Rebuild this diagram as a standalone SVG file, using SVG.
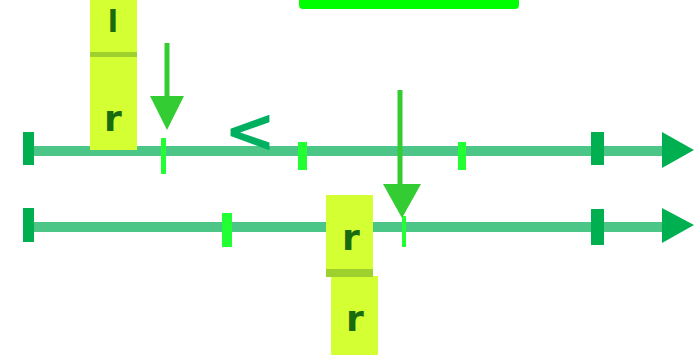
<svg xmlns="http://www.w3.org/2000/svg" width="694" height="355" viewBox="0 0 694 355">
  <style>
    .axis { stroke: #4cc686; stroke-width: 10; fill: none; }
    .bar { fill: #00b050; }
    .head { fill: #00b050; }
    .tick { fill: #22ff33; }
    .box { fill: #d4ff33; }
    .div { fill: #9fd12e; }
    .lbl { font-family: "DejaVu Sans", "Liberation Sans", sans-serif; font-weight: bold; fill: #1a6a10; }
    .down { stroke: #33cc33; stroke-width: 5; fill: none; }
    .downhead { fill: #33cc33; }
  </style>
  <g id="topbar">
    <rect x="299" y="-6" width="220" height="15" rx="4" fill="#00ff00"/>
  </g>
  <g id="line-top">
    <line class="axis" x1="34" y1="151" x2="665" y2="151"/>
    <rect class="bar" x="23" y="132" width="11" height="33"/>
    <rect class="bar" x="591" y="132" width="13" height="33"/>
    <polygon class="head" points="662,132 694,150 662,168"/>
    <rect class="tick" x="161" y="138" width="5" height="36"/>
    <rect class="tick" x="298" y="142" width="9" height="28"/>
    <rect class="tick" x="458" y="142" width="8" height="28"/>
  </g>
  <g id="line-bottom">
    <line class="axis" x1="34" y1="227" x2="665" y2="227"/>
    <rect class="bar" x="23" y="208" width="11" height="34"/>
    <rect class="bar" x="591" y="209" width="13" height="36"/>
    <polygon class="head" points="662,208 694,225 662,243"/>
    <rect class="tick" x="222" y="213" width="10" height="34"/>
    <rect class="tick" x="402" y="216" width="4" height="31"/>
  </g>
  <g id="box-top">
    <rect class="box" x="90" y="0" width="47" height="150"/>
    <rect class="div" x="90" y="52" width="47" height="5"/>
    <text class="lbl" x="113" y="32" font-size="30" text-anchor="middle">l</text>
    <text class="lbl" x="113" y="131" font-size="36" text-anchor="middle">r</text>
  </g>
  <g id="box-bottom">
    <rect class="box" x="326" y="195" width="47" height="80"/>
    <rect class="box" x="331" y="276" width="47" height="79"/>
    <rect class="div" x="326" y="269" width="47" height="8"/>
    <text class="lbl" x="351" y="250" font-size="36" text-anchor="middle">r</text>
    <text class="lbl" x="355" y="331" font-size="36" text-anchor="middle">r</text>
  </g>
  <g id="less-than">
    <text x="250" y="152" font-family="DejaVu Sans, sans-serif" font-weight="bold" font-size="62" fill="#00b060" text-anchor="middle">&lt;</text>
  </g>
  <g id="connectors">
    <line class="down" x1="167" y1="43" x2="167" y2="100"/>
    <polygon class="downhead" points="150,96 184,96 167,130"/>
    <line class="down" x1="400" y1="90" x2="400" y2="188"/>
    <polygon class="downhead" points="383,184 421,184 402,218"/>
  </g>
</svg>
